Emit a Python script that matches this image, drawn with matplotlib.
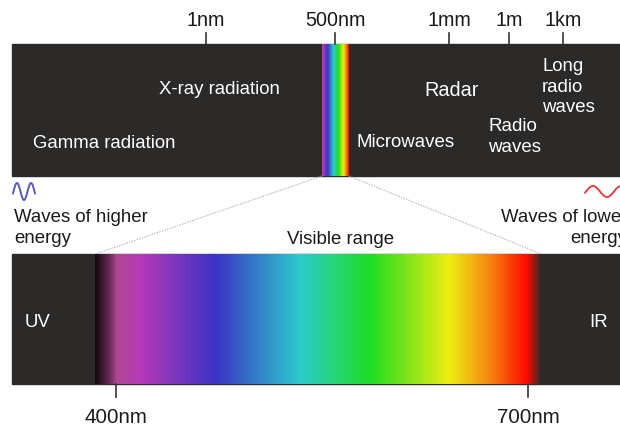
import numpy as np
import matplotlib.pyplot as plt
from matplotlib.colors import LinearSegmentedColormap

plt.rcParams['font.family'] = ['Liberation Sans', 'DejaVu Sans']

# wavelength marks above the full spectrum bar
top_ticks = ['1nm', '500nm', '1mm', '1m', '1km']
top_tick_x = [206, 335, 449, 509, 563]

# band names inside the full spectrum bar (label, x, first baseline, ha, size)
bands = [
    ('Gamma radiation', 33, 148, 'left', 13.4),
    ('X-ray radiation', 219, 94, 'center', 13.4),
    ('Microwaves', 357, 147, 'left', 13.4),
    ('Radar', 452, 96, 'center', 14.3),
    ('Radio\nwaves', 488, 131, 'left', 13.5),
    ('Long\nradio\nwaves', 542, 71, 'left', 13.4),
]

# visible range (nm)
vis_ticks = [400, 700]
stop_nm = [385, 395, 400, 416, 472, 534, 586, 643, 670, 700, 710]
stop_colors = ['#150a10', '#6a2a58', '#b04890', '#b83ab8', '#3a33c5', '#2ccccc',
               '#20dd20', '#eeee10', '#f49010', '#ff0a00', '#2b2a29']

bar_color = '#2b2a29'
text_color = '#1a1a1a'

cmap = LinearSegmentedColormap.from_list(
    'vis', [((n - stop_nm[0]) / (stop_nm[-1] - stop_nm[0]), c)
            for n, c in zip(stop_nm, stop_colors)])


def nm_to_x(nm):
    # bottom bar: 400nm sits at x=116, 700nm at x=528
    return 116 + (np.asarray(nm) - 400) * (528 - 116) / 300


fig = plt.figure(figsize=(6.2, 4.28), dpi=100)
ax = fig.add_axes([0, 0, 1, 1])
ax.set_xlim(0, 620)
ax.set_ylim(428, 0)
ax.axis('off')

# ---- top bar: whole spectrum
ax.add_patch(plt.Rectangle((12, 44), 620, 132, color=bar_color, zorder=1))
strip = np.linspace(0.1, 1.0, 300)[None, :]
strip_cmap = LinearSegmentedColormap.from_list(
    'strip', [cmap(v) for v in np.linspace(0.08, 0.97, 50)])
ax.imshow(strip, cmap=strip_cmap, extent=(322, 349, 176, 44), aspect='auto', zorder=2)

for lab, x in zip(top_ticks, top_tick_x):
    ax.plot([x, x], [33, 44], color='#333333', lw=1.2, zorder=3)
    ax.text(x, 26, lab, ha='center', va='baseline', fontsize=14.2, color=text_color)

for lab, x, y, ha, fs in bands:
    for i, line in enumerate(lab.split('\n')):
        ax.text(x, y + i * 20.5, line, ha=ha, va='baseline', fontsize=fs, color='white', zorder=4)

# ---- wave icons
xs = np.linspace(13, 35, 80)
ax.plot(xs, 191.5 - 8.5 * np.cos(2 * np.pi * (xs - 17) / 14), color='#5858b8', lw=1.4)
xs = np.linspace(585, 622, 80)
ax.plot(xs, 191.5 - 5.5 * np.sin(2 * np.pi * (xs - 586) / 28), color='#e83535', lw=1.3)

# ---- side captions
ax.text(14, 222, 'Waves of higher', ha='left', va='baseline', fontsize=13.4, color=text_color)
ax.text(14, 243, 'energy', ha='left', va='baseline', fontsize=13.4, color=text_color)
ax.text(627, 222, 'Waves of lower', ha='right', va='baseline', fontsize=13.4, color=text_color)
ax.text(627, 243, 'energy', ha='right', va='baseline', fontsize=13.4, color=text_color)
ax.text(341, 244, 'Visible range', ha='center', va='baseline', fontsize=13.4, color=text_color)

# ---- zoom lines
x0, x1 = nm_to_x([stop_nm[0], stop_nm[-1]])
ax.plot([322, x0], [176, 254], color='#b0b0b0', lw=0.8, ls=(0, (1.2, 1.2)))
ax.plot([349, x1], [176, 254], color='#b0b0b0', lw=0.8, ls=(0, (1.2, 1.2)))

# ---- bottom bar: visible range
ax.add_patch(plt.Rectangle((12, 254), 620, 130, color=bar_color, zorder=1))
grad = np.linspace(0, 1, 500)[None, :]
ax.imshow(grad, cmap=cmap, extent=(x0, x1, 384, 254), aspect='auto', zorder=2)

for nm in vis_ticks:
    x = nm_to_x(nm)
    ax.plot([x, x], [384, 397], color='#333333', lw=1.2)
    ax.text(x, 423, f'{nm}nm', ha='center', va='baseline', fontsize=14.8, color=text_color)

ax.text(25, 327, 'UV', ha='left', va='baseline', fontsize=13.4, color='white', zorder=4)
ax.text(589, 327, 'IR', ha='left', va='baseline', fontsize=13.4, color='white', zorder=4)

fig.savefig('out.png', dpi=100)
